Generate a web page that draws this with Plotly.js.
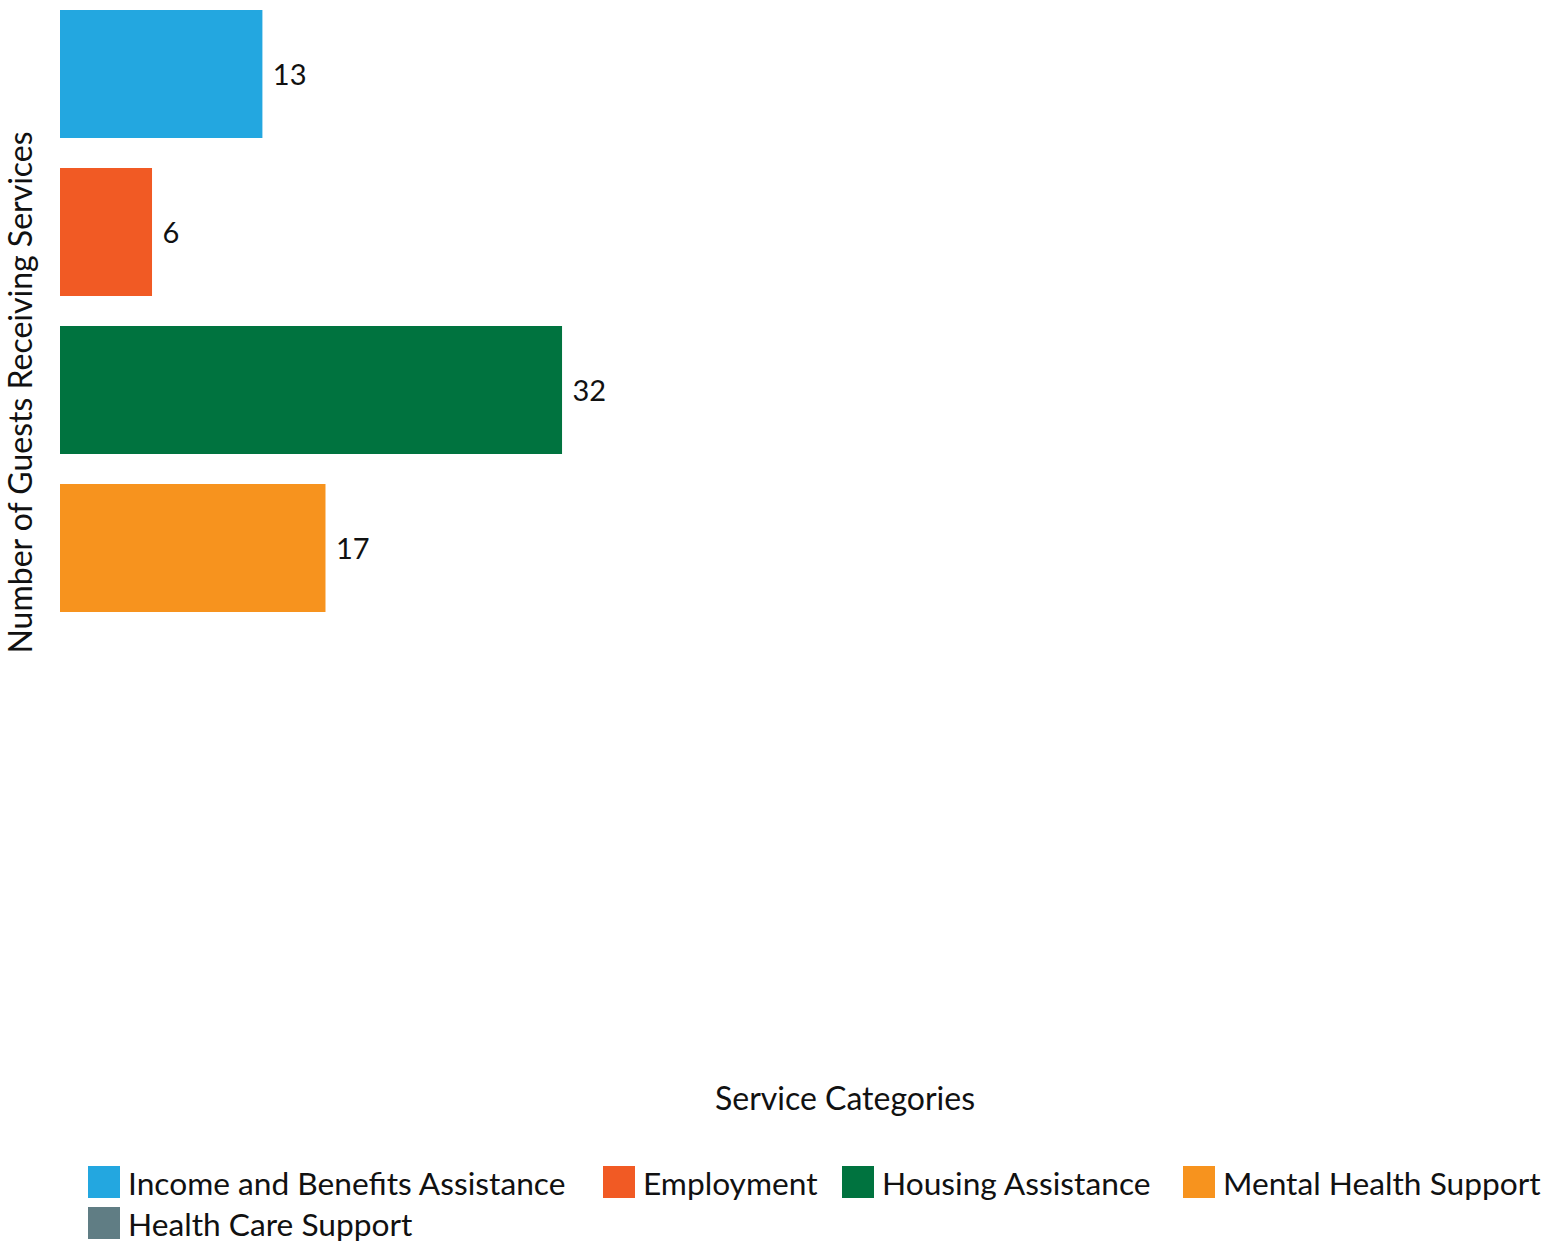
<!DOCTYPE html>
<html>
<head>
<meta charset="utf-8">
<script src="https://cdn.plot.ly/plotly-3.0.1.min.js"></script>
<style>
html,body{margin:0;padding:0;overflow:hidden;background:#fff;}
#chart{width:1650px;height:1243px;}
</style>
</head>
<body>
<div id="chart"></div>
<script>
const categories = ["Income and Benefits Assistance","Employment","Housing Assistance","Mental Health Support","Health Care Support"];
const values = [13, 6, 32, 17, null];
const colors = ["#23A7E0","#F15A24","#00733F","#F7931E","#607D84"];

// legend layout (pixel positions of swatches)
const legendSwatchX = [88, 603, 842, 1183, 88];
const legendRowY = [1182, 1182, 1182, 1182, 1223];

const W = 1650, H = 1243;
const mL = 60, mR = 20, mT = 0, plotH = 785;
const plotW = W - mL - mR;
const px2x = p => (p - mL) / plotW;
const py2y = p => 1 - (p - mT) / plotH;

const shapes = [], annotations = [];
categories.forEach((c, i) => {
  const sx = legendSwatchX[i], cy = legendRowY[i];
  shapes.push({type:'rect', xref:'paper', yref:'paper',
    x0: px2x(sx), x1: px2x(sx + 32), y0: py2y(cy + 16), y1: py2y(cy - 16),
    fillcolor: colors[i], line:{width:0}});
  annotations.push({xref:'paper', yref:'paper', x: px2x(sx + 38), y: py2y(cy + 1),
    xanchor:'left', yanchor:'middle', showarrow:false, text: c,
    font:{family:'Lato', size:31.7, color:'#111'}});
});

const labels = values.map(v => (v === null || v === undefined) ? '' : ' ' + v);

const trace = {
  type:'bar', orientation:'h',
  y: categories, x: values,
  marker:{color: colors},
  text: labels, textposition:'outside', cliponaxis:true,
  textfont:{family:'Lato', size:29, color:'#111'},
  constraintext:'none',
  hoverinfo:'none', showlegend:false
};

const layout = {
  width: W, height: H,
  margin:{l:mL, r:mR, t:mT, b:H - mT - plotH, pad:0},
  paper_bgcolor:'#fff', plot_bgcolor:'#fff',
  font:{family:'Lato', size:30, color:'#111'},
  bargap:0.19,
  showlegend:false,
  xaxis:{range:[0.165, 0.165 + plotW / 15.77], showgrid:false, zeroline:false, showticklabels:false, ticks:'',
    showline:false, automargin:true,
    title:{text:'Service Categories', font:{family:'Lato', size:32, color:'#111'}, standoff:302}},
  yaxis:{type:'category', range:[4.5, -0.468], showgrid:false, zeroline:false,
    showticklabels:false, ticks:'', showline:false, automargin:true,
    title:{text:'Number of Guests Receiving Services', font:{family:'Lato', size:32, color:'#111'}, standoff:22}},
  shapes: shapes,
  annotations: annotations
};

Plotly.newPlot('chart', [trace], layout, {staticPlot:true, displayModeBar:false});
</script>
</body>
</html>
